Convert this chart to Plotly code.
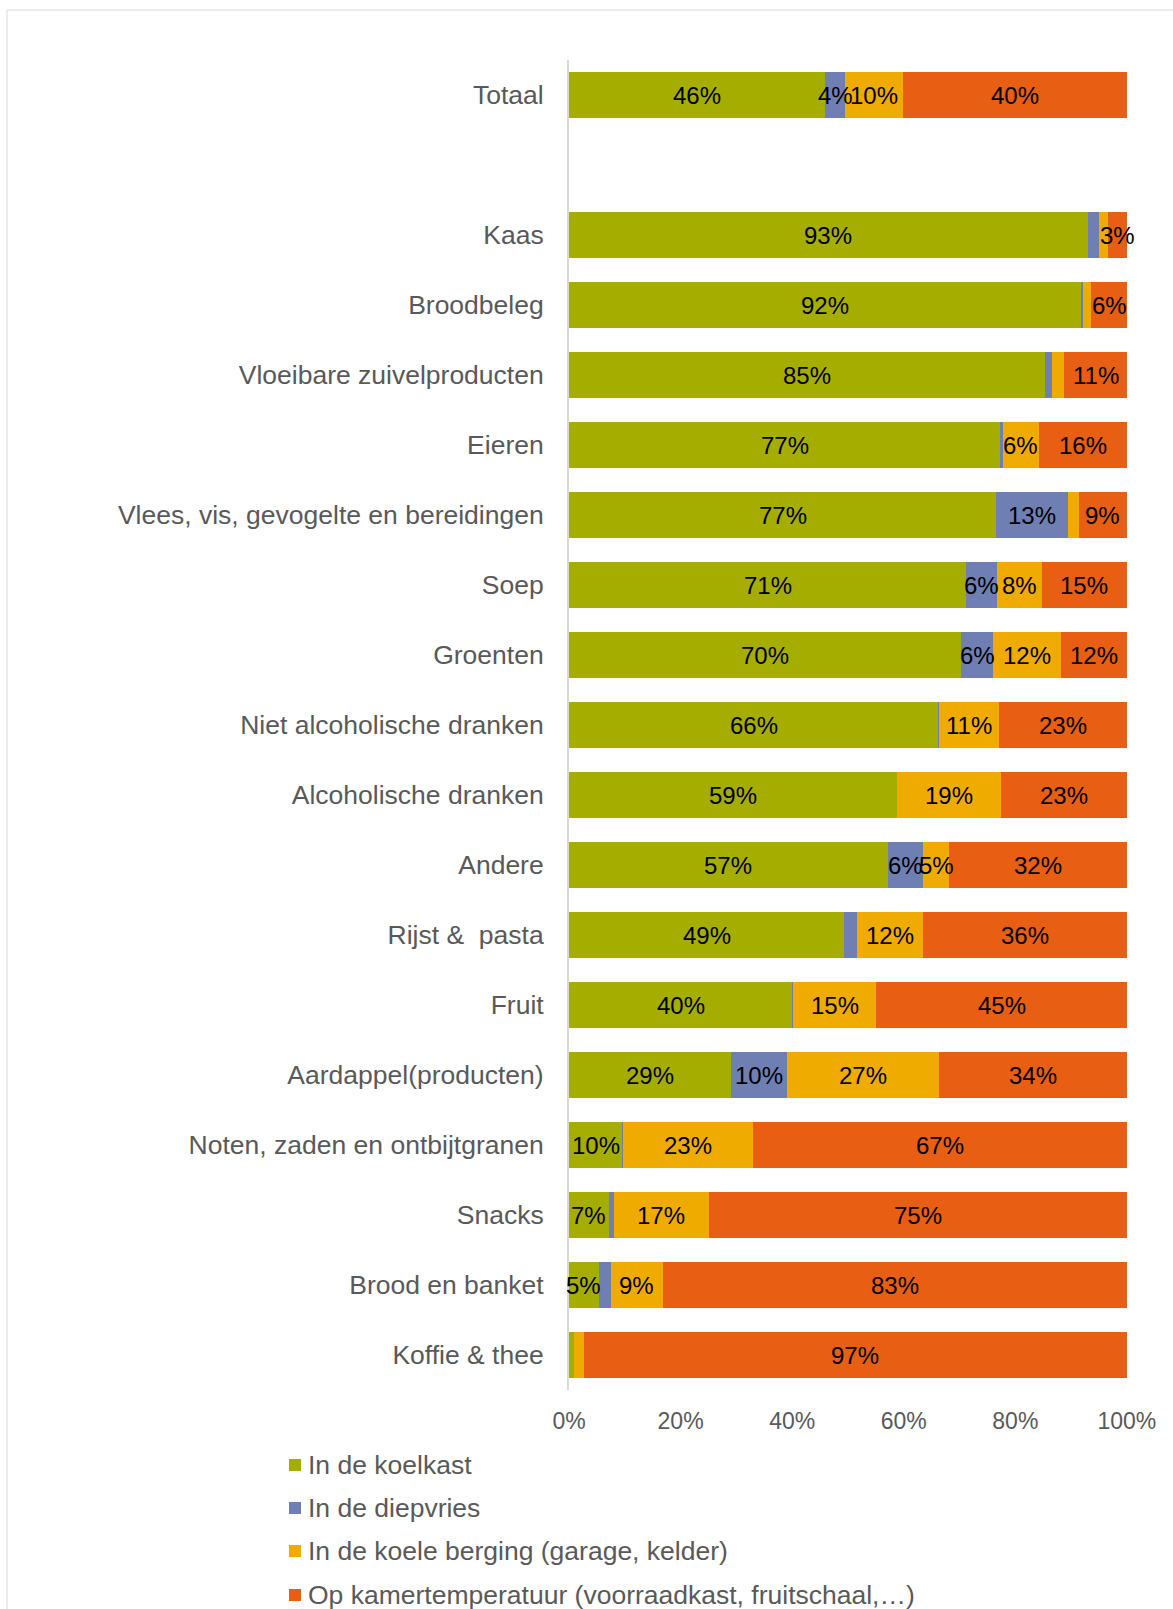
import plotly.graph_objects as go

categories = ["Totaal", " ", "Kaas", "Broodbeleg", "Vloeibare zuivelproducten", "Eieren",
              "Vlees, vis, gevogelte en bereidingen", "Soep", "Groenten",
              "Niet alcoholische dranken", "Alcoholische dranken", "Andere", "Rijst &  pasta",
              "Fruit", "Aardappel(producten)", "Noten, zaden en ontbijtgranen", "Snacks",
              "Brood en banket", "Koffie & thee"]

koelkast = [45.9, None, 93.0, 91.8, 85.3, 77.3, 76.6, 71.2, 70.3, 66.2, 58.8, 57.1, 49.3, 40.1, 29.1, 9.6, 7.1, 5.3, 0.9]
diepvries = [3.6, None, 2.0, 0.3, 1.2, 0.5, 12.9, 5.5, 5.7, 0.1, 0.0, 6.4, 2.3, 0.1, 10.0, 0.1, 0.9, 2.2, 0.0]
koele_berging = [10.4, None, 1.7, 1.5, 2.3, 6.4, 1.9, 8.1, 12.1, 10.7, 18.6, 4.6, 11.9, 14.9, 27.3, 23.3, 17.1, 9.3, 1.7]
kamertemp = [40.1, None, 3.3, 6.4, 11.2, 15.8, 8.6, 15.2, 11.9, 23.0, 22.6, 31.9, 36.5, 44.9, 33.6, 67.0, 74.9, 83.2, 97.4]

series_names = ["In de koelkast", "In de diepvries", "In de koele berging (garage, kelder)",
                "Op kamertemperatuur (voorraadkast, fruitschaal,\u2026)"]
series_values = [koelkast, diepvries, koele_berging, kamertemp]
colors = ["#A4AD00", "#6F7EB3", "#F0AB00", "#E85E12"]
tick_vals = [0, 20, 40, 60, 80, 100]
tick_text = ["0%", "20%", "40%", "60%", "80%", "100%"]

FONT = "Liberation Sans, Arial, sans-serif"

L, R, T, B = 569, 46, 60, 219
W, H = 1173, 1609
pw = W - L - R
ph = H - T - B


def px_x(px):
    return (px - L) / pw


def px_y(py):
    return (H - B - py) / ph


fig = go.Figure()
for name, vals, col in zip(series_names, series_values, colors):
    fig.add_trace(go.Bar(
        y=categories, x=vals, name=name, orientation="h",
        marker=dict(color=col, line=dict(width=0)),
        hoverinfo="skip", showlegend=False,
    ))

annotations = []
# data labels drawn on top of all bars (so small labels may overflow like in the original)
cum = [0.0] * len(categories)
for name, vals in zip(series_names, series_values):
    for j, v in enumerate(vals):
        if v is None:
            continue
        if v >= 3:
            annotations.append(dict(x=cum[j] + v / 2, y=categories[j], xref="x", yref="y",
                                    text=f"{v:.0f}%", showarrow=False, xanchor="center",
                                    yanchor="middle", yshift=0,
                                    font=dict(family=FONT, size=24, color="black")))
        cum[j] += v

# manual legend (square swatch + label) below the plot
legend_y = [1465, 1508, 1551, 1595]
shapes = [dict(type="rect", xref="paper", yref="paper",
               x0=px_x(7), x1=px_x(1190), y0=px_y(1640), y1=px_y(10),
               line=dict(color="#D9D9D9", width=1), fillcolor="rgba(0,0,0,0)", layer="below")]
for name, col, yc in zip(series_names, colors, legend_y):
    shapes.append(dict(type="rect", xref="paper", yref="paper",
                       x0=px_x(289), x1=px_x(301), y0=px_y(yc + 6), y1=px_y(yc - 6),
                       line=dict(width=0), fillcolor=col))
    annotations.append(dict(xref="paper", yref="paper", x=px_x(306), y=px_y(yc),
                            xanchor="left", yanchor="middle", showarrow=False, text=name,
                            font=dict(family=FONT, size=26.5, color="#595959")))

fig.update_layout(
    width=W, height=H, barmode="stack", bargap=0.34,
    margin=dict(l=L, r=R, t=T, b=B, autoexpand=False),
    paper_bgcolor="white", plot_bgcolor="white",
    font=dict(family=FONT, color="#595959", size=23),
    showlegend=False,
    xaxis=dict(range=[0, 100.02], tickvals=tick_vals, ticktext=tick_text, showgrid=False,
               zeroline=False, showline=False, ticks="", ticklabelstandoff=15,
               tickfont=dict(family=FONT, size=23, color="#595959"), fixedrange=True),
    yaxis=dict(type="category", categoryorder="array", categoryarray=categories,
               range=[len(categories) - 0.5, -0.5], autorange=False,
               showgrid=False, zeroline=False,
               showline=True, linecolor="#D9D9D9", linewidth=2, ticks="",
               ticklabelstandoff=18,
               tickfont=dict(family=FONT, size=26.5, color="#595959")),
    shapes=shapes,
    annotations=annotations,
)

fig.write_html("out.html")
